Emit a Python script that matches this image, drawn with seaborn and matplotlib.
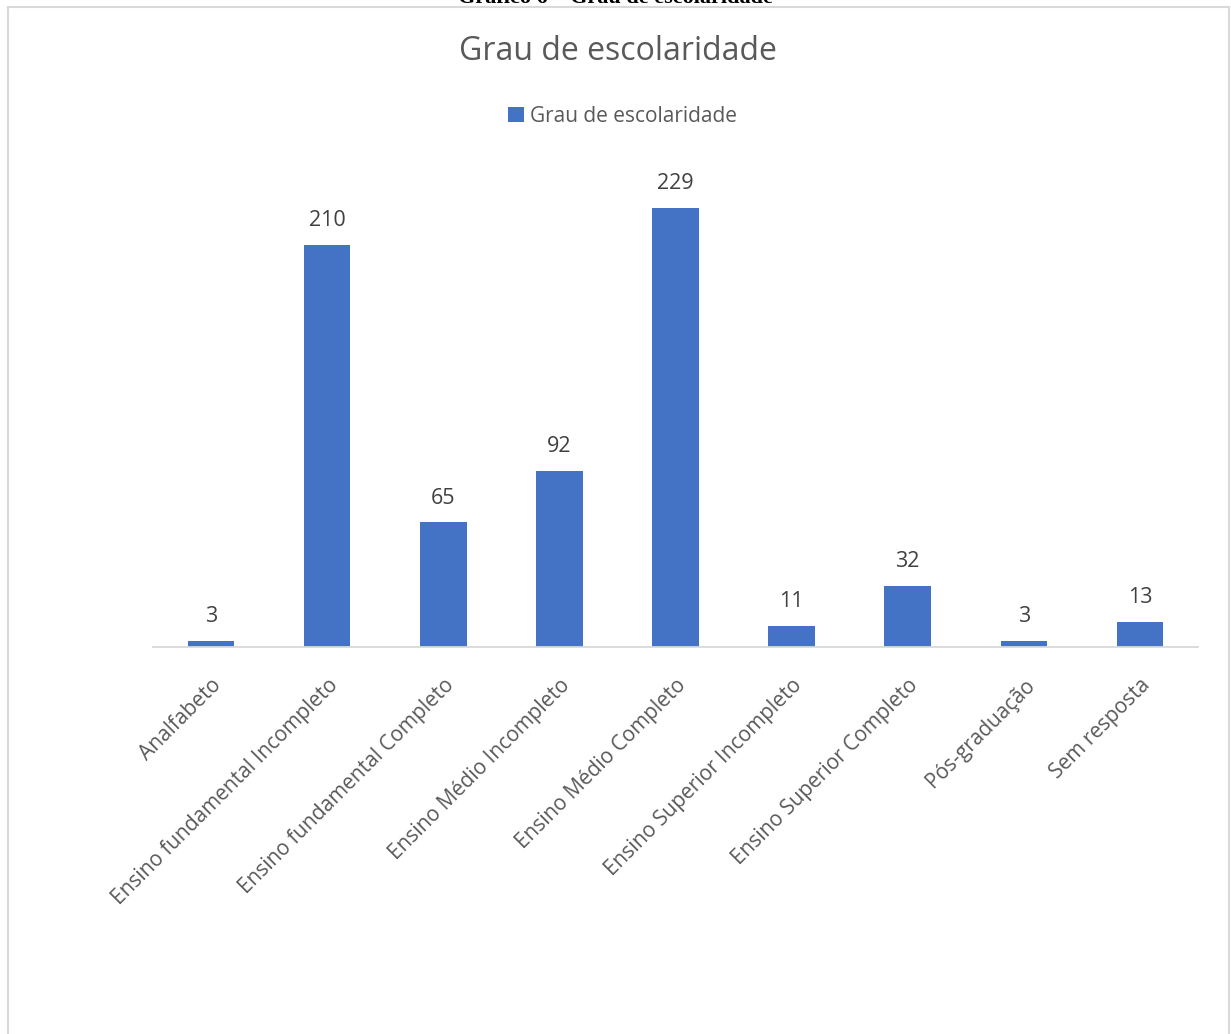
import matplotlib
matplotlib.use("Agg")
import matplotlib.pyplot as plt
import seaborn as sns
import pandas as pd
from matplotlib.patches import Rectangle, Patch

categories = ["Analfabeto", "Ensino fundamental Incompleto", "Ensino fundamental Completo",
              "Ensino Médio Incompleto", "Ensino Médio Completo", "Ensino Superior Incompleto",
              "Ensino Superior Completo", "Pós-graduação", "Sem resposta"]
values = [3, 210, 65, 92, 229, 11, 32, 3, 13]
series_name = "Grau de escolaridade"
title = "Grau de escolaridade"
caption = "Gráfico 6 – Grau de escolaridade"

sns.set_theme(style="white")
plt.rcParams['font.family'] = ['Open Sans', 'DejaVu Sans']

df = pd.DataFrame({"cat": categories, "val": values})

fig = plt.figure(figsize=(12.31, 10.34), dpi=100)
ax = fig.add_axes([153/1231, 1-647/1034, (1198-153)/1231, (647-168)/1034])

bar_color = "#4472C4"
sns.barplot(data=df, x="cat", y="val", color=bar_color, width=0.4, ax=ax,
            saturation=1, edgecolor="none")
ax.set_ylim(0, 250)
ax.set_xlim(-0.5, len(categories) - 0.5)
ax.set_xlabel("")
ax.set_ylabel("")
ax.set_yticks([])
for s in ["top", "left", "right"]:
    ax.spines[s].set_visible(False)
ax.spines["bottom"].set_color("#D9D9D9")
ax.spines["bottom"].set_linewidth(1.3)
ax.tick_params(axis="x", length=0, pad=20)
ax.set_xticks(range(len(categories)))
ax.set_xticklabels(categories, rotation=45, ha="right", rotation_mode="anchor",
                   fontsize=15, color="#595959")

for cont in ax.containers:
    ax.bar_label(cont, labels=[str(v) for v in values], padding=10, fontsize=15.5, color="#404040")

fig.text(0.502, 1 - 52/1034, title, ha="center", va="center", fontsize=23, color="#595959")
handle = Patch(facecolor=bar_color, edgecolor="none")
fig.legend([handle], [series_name], loc="center", bbox_to_anchor=(0.506, 1 - 116/1034),
           frameon=False, fontsize=15, labelcolor="#595959", handlelength=0.75,
           handleheight=0.75, handletextpad=0.3)

# chart frame
fig.patches.append(Rectangle((8/1231, -0.01), (1229-8)/1231, 1 - 7/1034 + 0.01,
                             transform=fig.transFigure, fill=False,
                             edgecolor="#D9D9D9", linewidth=1.5))
fig.text(0.5, 1 - 3/1034, caption, ha="center", va="baseline", fontsize=16,
         fontweight="bold", family=["Liberation Serif", "DejaVu Serif"], color="black")

fig.savefig("out.png", dpi=100)
